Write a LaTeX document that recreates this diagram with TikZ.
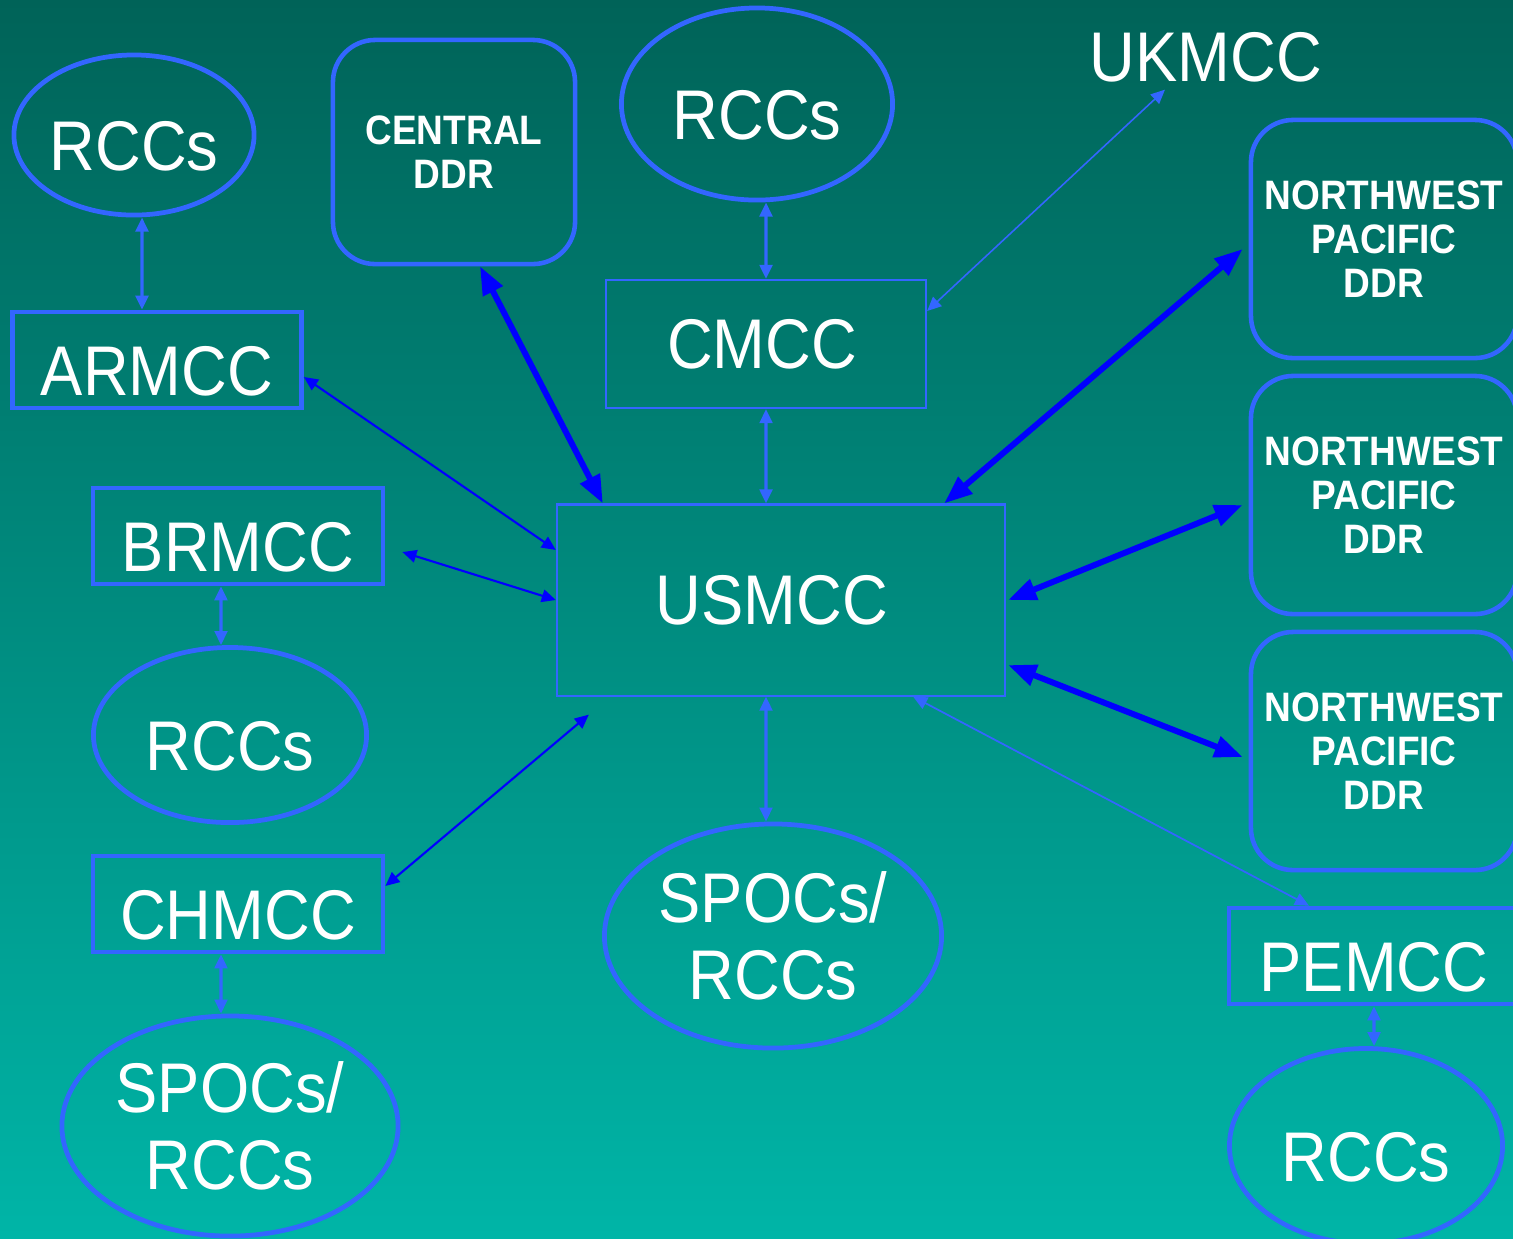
\documentclass[tikz,border=0pt]{standalone}
\usepackage{fontspec}
\setmainfont{Liberation Sans}[FakeStretch=0.9]
\usetikzlibrary{shapes.geometric,arrows.meta}
\definecolor{bgtop}{RGB}{0,99,88}
\definecolor{bgbot}{RGB}{0,181,167}
\definecolor{ringblue}{RGB}{51,102,255}
\definecolor{linkblue}{RGB}{0,0,255}

\begin{document}
\begin{tikzpicture}[x=0.01cm,y=-0.01cm,
  every node/.style={text=white,font=\fontsize{20}{21.8}\selectfont,align=center},
  mcc/.style={draw=ringblue,line width=1.3pt,inner sep=0pt},
  thinmcc/.style={draw=ringblue,line width=0.6pt,inner sep=0pt},
  oval/.style={ellipse,draw=ringblue,line width=1.35pt,inner sep=0pt},
  ddr/.style={draw=ringblue,line width=1.3pt,rounded corners=12pt,inner sep=1pt,
    font=\bfseries\fontsize{11.7}{12.5}\selectfont},
  low/.style={text height=20pt,text depth=0pt},
  bluelink/.style={<->,>={Triangle[length=4pt,width=3.6pt]},draw=ringblue,line width=0.9pt},
  darklink/.style={<->,>={Triangle[length=4pt,width=3.6pt]},draw=linkblue,line width=0.6pt},
  thicklink/.style={<->,>={Triangle[length=8pt,width=6pt]},draw=linkblue,line width=1.7pt}]
\clip (0,0) rectangle (1513,1238);
\shade[top color=bgtop,bottom color=bgbot] (0,0) rectangle (1513,1238);
%
\node[oval,minimum width=2.4cm,minimum height=1.6cm,low] (rccA) at (134,135) {RCCs};
\node[mcc,minimum width=2.89cm,minimum height=0.96cm,low] (armcc) at (157,360) {ARMCC};
\node[mcc,minimum width=2.9cm,minimum height=0.96cm,low] (brmcc) at (238,536) {BRMCC};
\node[oval,minimum width=2.73cm,minimum height=1.75cm,low] (rccC) at (230,735) {RCCs};
\node[mcc,minimum width=2.9cm,minimum height=0.96cm,low] (chmcc) at (238,904) {CHMCC};
\node[oval,minimum width=3.36cm,minimum height=2.2cm] (spocB) at (230,1126) {SPOCs/\\RCCs};
%
\node[ddr,minimum width=2.42cm,minimum height=2.24cm] (central) at (454,152) {CENTRAL\\DDR};
\node[oval,minimum width=2.71cm,minimum height=1.92cm,low] (rccB) at (757,104) {RCCs};
\node[thinmcc,minimum width=3.2cm,minimum height=1.28cm] (cmcc) at (766,344) {CMCC\hspace*{0.08cm}};
\node[thinmcc,minimum width=4.48cm,minimum height=1.91cm] (usmcc) at (781,600) {USMCC\hspace*{0.18cm}};
\node[oval,minimum width=3.37cm,minimum height=2.24cm] (spocA) at (773,936) {SPOCs/\\RCCs};
%
\node[inner sep=2pt] (ukmcc) at (1206,57) {UKMCC};
\node[ddr,minimum width=2.66cm,minimum height=2.38cm] (nwA) at (1384,239) {NORTHWEST\\PACIFIC\\DDR};
\node[ddr,minimum width=2.66cm,minimum height=2.38cm] (nwB) at (1384,495) {NORTHWEST\\PACIFIC\\DDR};
\node[ddr,minimum width=2.66cm,minimum height=2.38cm] (nwC) at (1384,751) {NORTHWEST\\PACIFIC\\DDR};
\node[mcc,minimum width=2.9cm,minimum height=0.96cm,low] (pemcc) at (1374,956) {PEMCC};
\node[oval,minimum width=2.73cm,minimum height=1.95cm,low] (rccD) at (1366,1146) {RCCs};
%
\draw[bluelink] ([xshift=0.08cm]rccA.south) -- ([xshift=-0.15cm]armcc.north);
\draw[bluelink] ([xshift=-0.17cm]brmcc.south) -- ([xshift=-0.09cm]rccC.north);
\draw[bluelink] ([xshift=-0.17cm]chmcc.south) -- ([xshift=-0.09cm]spocB.north);
\draw[bluelink] ([xshift=0.09cm]rccB.south) -- (cmcc.north);
\draw[bluelink] (cmcc.south) -- ([xshift=-0.15cm]usmcc.north);
\draw[bluelink] ([xshift=-0.15cm]usmcc.south) -- ([xshift=-0.07cm]spocA.north);
\draw[bluelink] (pemcc.south) -- ([xshift=0.08cm]rccD.north);
\draw[bluelink,line width=0.45pt] ([xshift=-0.41cm]ukmcc.south) -- ([yshift=0.33cm]cmcc.east);
\draw[bluelink,line width=0.5pt] ([xshift=-0.93cm]usmcc.south east) -- ([xshift=-0.65cm]pemcc.north);
%
\draw[darklink] ([yshift=-0.17cm]armcc.east) -- ([yshift=0.5cm]usmcc.west);
\draw[darklink] ([xshift=0.17cm,yshift=-0.16cm]brmcc.east) -- (usmcc.west);
\draw[darklink] ([yshift=0.18cm]chmcc.east) -- ([xshift=0.33cm,yshift=-0.18cm]usmcc.south west);
%
\draw[thicklink] ([xshift=0.26cm]central.south) -- ([xshift=0.47cm]usmcc.north west);
\draw[thicklink] ([xshift=-0.06cm,yshift=-0.1cm]nwA.west) -- ([xshift=-0.62cm]usmcc.north east);
\draw[thicklink] ([xshift=-0.06cm,yshift=-0.1cm]nwB.west) -- ([xshift=0.02cm]usmcc.east);
\draw[thicklink] ([xshift=0.02cm,yshift=-0.65cm]usmcc.east) -- ([xshift=-0.06cm,yshift=-0.06cm]nwC.west);
\end{tikzpicture}
\end{document}
